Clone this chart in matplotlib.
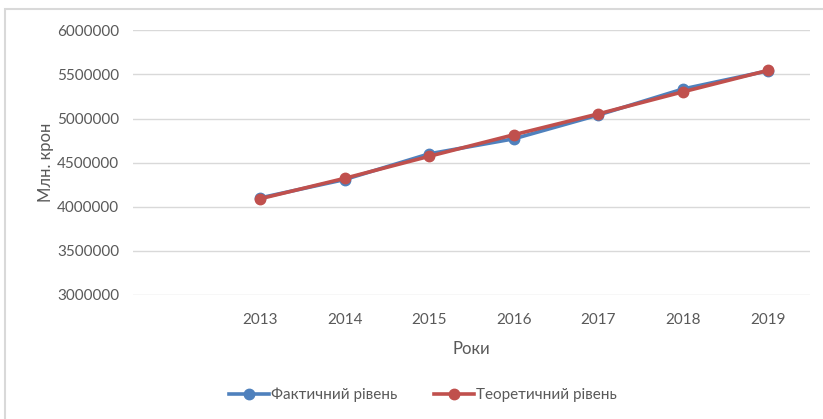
import matplotlib.pyplot as plt
from matplotlib.patches import Rectangle

years = ["2013", "2014", "2015", "2016", "2017", "2018", "2019"]
actual = [4100000, 4308000, 4600000, 4770000, 5040000, 5335000, 5540000]
theoretical = [4090000, 4322000, 4572000, 4816000, 5053000, 5303000, 5545000]
y_ticks = [3000000, 3500000, 4000000, 4500000, 5000000, 5500000, 6000000]

plt.rcParams["font.family"] = ["Lato", "DejaVu Sans"]
text_color = "#595959"

fig = plt.figure(figsize=(8.23, 4.19), dpi=100)
ax = fig.add_axes([133 / 823, 1 - 295 / 419, (810 - 133) / 823, (295 - 30.3) / 419])

ax.plot(years, actual, color="#4F81BD", linewidth=2.6, marker="o",
        markersize=7.5, label="Фактичний рівень", zorder=3)
ax.plot(years, theoretical, color="#C0504D", linewidth=2.6, marker="o",
        markersize=7.5, label="Теоретичний рівень", zorder=4)

# one empty category sits in front of 2013
ax.set_xlim(-1.5, len(years) - 0.5)
ax.set_ylim(y_ticks[0], y_ticks[-1])
ax.set_yticks(y_ticks)
ax.set_yticklabels([str(v) for v in y_ticks])

ax.grid(axis="y", color="#D9D9D9", linewidth=1)
ax.set_axisbelow(True)
for side in ax.spines.values():
    side.set_visible(False)
ax.tick_params(axis="both", length=0, labelsize=11, colors=text_color)
ax.tick_params(axis="x", pad=13)
ax.tick_params(axis="y", pad=10)

ax.set_xlabel("Роки", fontsize=12, color=text_color, labelpad=10)
ax.set_ylabel("Млн. крон", fontsize=12, color=text_color, labelpad=2)

ax.legend(loc="center", bbox_to_anchor=(423 / 823, 1 - 395 / 419),
          bbox_transform=fig.transFigure, ncol=2, frameon=False,
          fontsize=11, labelcolor=text_color, handlelength=2.6,
          handletextpad=0.15, columnspacing=2.4)

# chart frame, cropped on the right and bottom
fig.patches.append(Rectangle((5 / 823, -0.1), 1.2, 1.1 - 9.5 / 419,
                             transform=fig.transFigure, fill=False,
                             edgecolor="#D9D9D9", linewidth=1.5))

fig.savefig("out.png", dpi=100)
